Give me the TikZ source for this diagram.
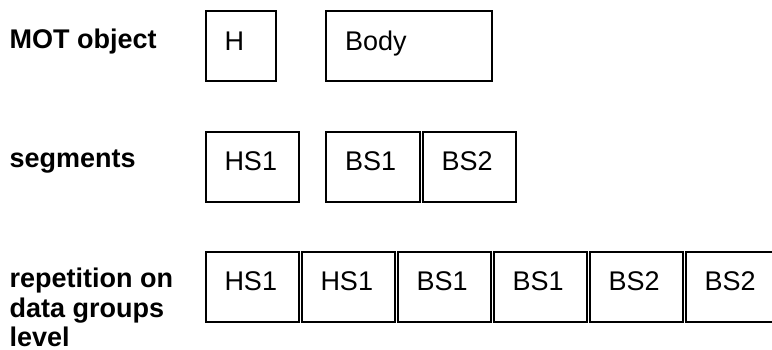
\documentclass[tikz,border=0pt]{standalone}
\usepackage{fontspec}
\setmainfont{Liberation Sans}
\usetikzlibrary{positioning}
\tikzset{
  seg/.style={draw, line width=2pt, rectangle, outer sep=0pt,
    inner xsep=19pt, inner ysep=0pt, text width=#1-38pt, align=left,
    text height=39pt, text depth=31pt, anchor=north west,
    font=\fontsize{27}{31}\selectfont},
  rowlabel/.style={anchor=base west, inner sep=0pt, align=left,
    font=\fontsize{27}{29.5}\selectfont\bfseries}
}
\begin{document}
\begin{tikzpicture}[x=1pt,y=-1pt]
  \useasboundingbox (0,0) rectangle (772,349);

  % Row labels
  \node[rowlabel] (Lobj) at (9.5,48.3) {MOT object};
  \node[rowlabel] (Lseg) at (9.5,167.8) {segments};
  \node[rowlabel] (Lrep) at (9.5,346.5) {repetition on\\data groups\\level};

  % MOT object
  \node[seg=70.5pt] (obj1) at (205.5,11.3) {H};
  \node[seg=166pt] (obj2) at (326,11.3) {Body};

  % Segments
  \node[seg=93.5pt] (seg1) at (205.5,131.5) {HS1};
  \node[seg=93.5pt] (seg2) at (326,131.5) {BS1};
  \node[seg=93.5pt, right=3pt of seg2] (seg3) {BS2};

  % Repetition on data groups level
  \node[seg=93.5pt] (rep1) at (205.5,251.5) {HS1};
  \node[seg=93.5pt, right=2.5pt of rep1] (rep2) {HS1};
  \node[seg=93.5pt, right=2.5pt of rep2] (rep3) {BS1};
  \node[seg=93.5pt, right=2.5pt of rep3] (rep4) {BS1};
  \node[seg=93.5pt, right=2.5pt of rep4] (rep5) {BS2};
  \node[seg=93.5pt, right=2.5pt of rep5] (rep6) {BS2};
\end{tikzpicture}
\end{document}
